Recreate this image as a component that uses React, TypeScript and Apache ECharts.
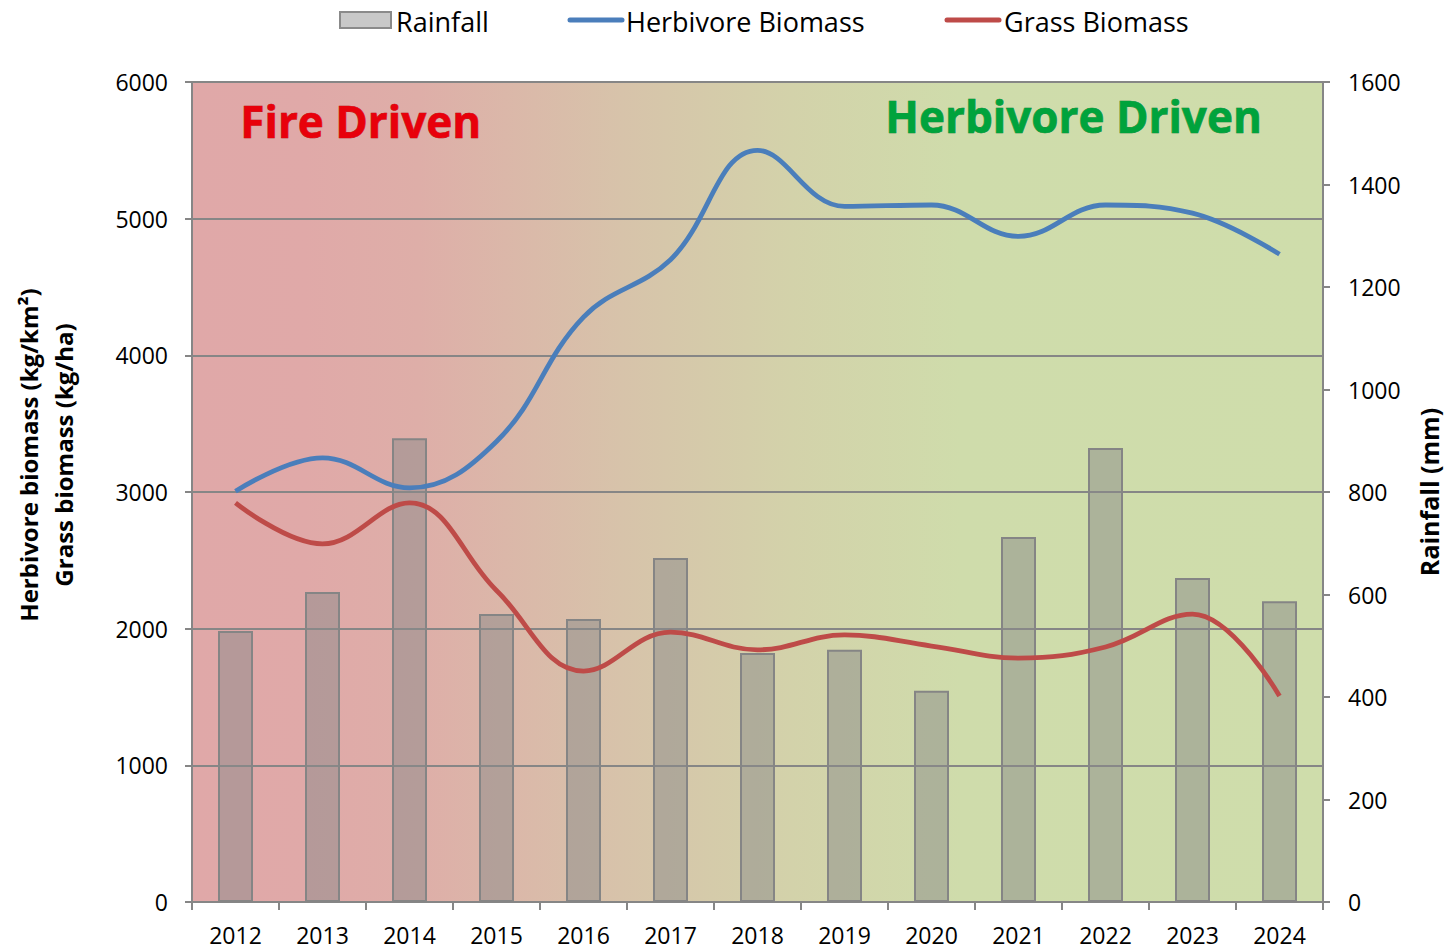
import React, { useEffect, useRef } from "react";
import * as echarts from "echarts";

const years = ["2012", "2013", "2014", "2015", "2016", "2017", "2018", "2019", "2020", "2021", "2022", "2023", "2024"];
const rainfall = [529, 605, 905, 562, 552, 671, 486, 492, 412, 712, 886, 632, 587];
const herbivoreBiomass = [3005, 3250, 3030, 3370, 4280, 4700, 5500, 5090, 5100, 4870, 5100, 5040, 4740];
const grassBiomass = [2920, 2620, 2920, 2280, 1690, 1975, 1845, 1954, 1873, 1785, 1866, 2107, 1507];
const seriesNames = ["Rainfall", "Herbivore Biomass", "Grass Biomass"];

const FONT = "'Open Sans', 'Noto Sans', sans-serif";
const BLUE = "#4a7ebb";
const RED = "#be4b48";

export default function App() {
  const ref = useRef<HTMLDivElement>(null);
  useEffect(() => {
    const chart = echarts.init(ref.current!, null, { renderer: "svg" });
    const axisGray = "#868686";
    const plain = (v: number) => String(v);
    chart.setOption({
      animation: false,
      textStyle: { fontFamily: FONT },
      grid: {
        left: 192,
        right: 124,
        top: 82,
        bottom: 48,
        show: true,
        borderWidth: 0,
        backgroundColor: new echarts.graphic.LinearGradient(0, 0, 1, 0, [
          { offset: 0, color: "#e0a8a8" },
          { offset: 0.1, color: "#e0a9a8" },
          { offset: 0.2, color: "#deaea8" },
          { offset: 0.38, color: "#d7c3aa" },
          { offset: 0.53, color: "#d3d2aa" },
          { offset: 0.68, color: "#cfdcab" },
          { offset: 1, color: "#cfddab" },
        ]),
      },
      xAxis: {
        type: "category",
        data: years,
        boundaryGap: true,
        axisLine: { show: true, lineStyle: { color: axisGray, width: 2 } },
        axisTick: { show: true, length: 8, lineStyle: { color: axisGray, width: 2 } },
        axisLabel: { color: "#000", fontSize: 23, margin: 21, fontFamily: FONT },
      },
      yAxis: [
        {
          type: "value",
          min: 0,
          max: 6000,
          interval: 1000,
          position: "left",
          axisLine: { show: true, lineStyle: { color: axisGray, width: 2 } },
          axisTick: { show: true, length: 7, lineStyle: { color: axisGray, width: 2 } },
          axisLabel: { color: "#000", fontSize: 23, margin: 24, fontFamily: FONT, formatter: plain },
          splitLine: { show: true, lineStyle: { color: axisGray, width: 2 } },
        },
        {
          type: "value",
          min: 0,
          max: 1600,
          interval: 200,
          position: "right",
          axisLine: { show: true, lineStyle: { color: axisGray, width: 2 } },
          axisTick: { show: true, length: 7, lineStyle: { color: axisGray, width: 2 } },
          axisLabel: { color: "#000", fontSize: 23, margin: 25, fontFamily: FONT, formatter: plain },
          splitLine: { show: false },
        },
      ],
      series: [
        {
          name: seriesNames[0],
          type: "bar",
          yAxisIndex: 1,
          data: rainfall,
          barWidth: 35,
          itemStyle: { color: "rgba(137,137,137,0.5)", borderColor: "#858585", borderWidth: 2 },
          z: 2,
        },
        {
          name: seriesNames[1],
          type: "line",
          yAxisIndex: 0,
          data: herbivoreBiomass,
          smooth: 0.4,
          symbol: "none",
          lineStyle: { color: BLUE, width: 4.8 },
          itemStyle: { color: BLUE },
          z: 4,
        },
        {
          name: seriesNames[2],
          type: "line",
          yAxisIndex: 0,
          data: grassBiomass,
          smooth: 0.4,
          symbol: "none",
          lineStyle: { color: RED, width: 4.8 },
          itemStyle: { color: RED },
          z: 4,
        },
      ],
      graphic: [
        // legend
        {
          type: "rect",
          shape: { x: 340, y: 12, width: 51, height: 16 },
          style: { fill: "#c8c8c8", stroke: "#8a8a8a", lineWidth: 2 },
        },
        {
          type: "text",
          x: 396,
          y: 21,
          style: { text: seriesNames[0], fill: "#000", font: `27px ${FONT}`, verticalAlign: "middle" },
        },
        {
          type: "line",
          shape: { x1: 570, y1: 20, x2: 622, y2: 20 },
          style: { stroke: BLUE, lineWidth: 5, lineCap: "round" },
        },
        {
          type: "text",
          x: 626,
          y: 21,
          style: { text: seriesNames[1], fill: "#000", font: `27px ${FONT}`, verticalAlign: "middle" },
        },
        {
          type: "line",
          shape: { x1: 947, y1: 20, x2: 999, y2: 20 },
          style: { stroke: RED, lineWidth: 5, lineCap: "round" },
        },
        {
          type: "text",
          x: 1004,
          y: 21,
          style: { text: seriesNames[2], fill: "#000", font: `27px ${FONT}`, verticalAlign: "middle" },
        },
        // region labels
        {
          type: "text",
          left: 240,
          top: 99,
          z: 10,
          style: {
            text: "Fire Driven",
            fill: "#e8000b",
            font: `bold 44px ${FONT}`,
            stroke: "#b00000",
            lineWidth: 0.6,
          },
        },
        {
          type: "text",
          left: 885,
          top: 94,
          z: 10,
          style: {
            text: "Herbivore Driven",
            fill: "#00a33c",
            font: `bold 44px ${FONT}`,
            stroke: "#007a2a",
            lineWidth: 0.6,
          },
        },
        // axis titles
        {
          type: "text",
          x: 28,
          y: 455,
          rotation: Math.PI / 2,
          style: {
            text: "Herbivore biomass (kg/km²)",
            fill: "#000",
            font: `bold 24px ${FONT}`,
            align: "center",
            verticalAlign: "middle",
          },
        },
        {
          type: "text",
          x: 63,
          y: 455,
          rotation: Math.PI / 2,
          style: {
            text: "Grass biomass (kg/ha)",
            fill: "#000",
            font: `bold 24px ${FONT}`,
            align: "center",
            verticalAlign: "middle",
          },
        },
        {
          type: "text",
          x: 1429,
          y: 492,
          rotation: Math.PI / 2,
          style: {
            text: "Rainfall (mm)",
            fill: "#000",
            font: `bold 25px ${FONT}`,
            align: "center",
            verticalAlign: "middle",
          },
        },
      ],
    });
    return () => chart.dispose();
  }, []);
  return (
    <div
      ref={ref}
      style={{ position: "fixed", left: 0, top: 0, width: 1447, height: 950, background: "#fff" }}
    />
  );
}
